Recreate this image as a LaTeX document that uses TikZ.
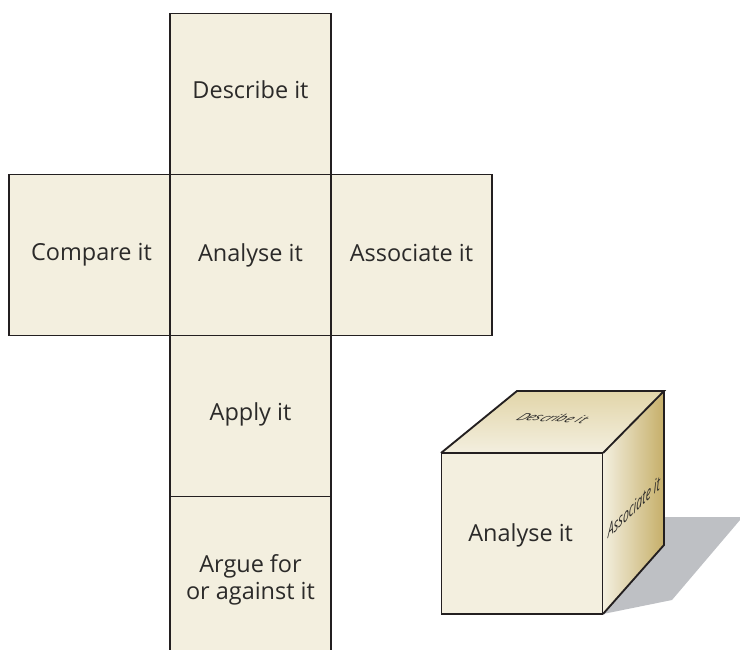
\documentclass[tikz,border=0pt]{standalone}
\usepackage{fontspec}
\setmainfont{Open Sans}
\definecolor{facecol}{HTML}{F3EFDF}
\definecolor{inkcol}{HTML}{2B2A29}
\definecolor{edgecol}{HTML}{231F20}
\definecolor{shadowcol}{HTML}{BEC0C4}
\definecolor{topdark}{HTML}{E2D5A9}
\definecolor{sidedark}{HTML}{C6AF69}
\newcommand{\lift}[2]{\raisebox{#1}[\height][\depth]{#2}}
\tikzset{
  facebox/.style={draw=edgecol,fill=facecol,line width=1.4pt,minimum width=120.75pt,minimum height=120.75pt,
    inner sep=0pt,outer sep=0pt,text=inkcol,font=\fontsize{17.6pt}{20.25pt}\selectfont,align=center},
  cubeline/.style={draw=edgecol,line width=1.4pt,line join=miter},
  slanttext/.style={text=inkcol,font=\fontsize{17.6pt}{20pt}\selectfont\itshape,inner sep=0pt,transform shape}
}
\begin{document}
\begin{tikzpicture}[x=0.75pt,y=-0.75pt]
\useasboundingbox (0,0) rectangle (740,650);
\clip (0,0) rectangle (740,650);
\fill[white] (0,0) rectangle (740,650);
% net
\node[facebox] (describe) at (250.5,94) {\lift{3pt}{Describe it}};
\node[facebox] (compare) at (89.5,255) {\hspace*{3pt}Compare it};
\node[facebox] (analyse) at (250.5,255) {Analyse it};
\node[facebox] (associate) at (411.5,255) {\lift{1.2pt}{Associate it}};
\node[facebox] (apply) at (250.5,416) {\lift{1.5pt}{Apply it}};
\node[facebox] (argue) at (250.5,577) {};
\node[text=inkcol,font=\fontsize{17.6pt}{20.25pt}\selectfont,align=center] (arguetext) at (250.5,580) {Argue for\\or against it};
% cube
\fill[shadowcol] (664,517) -- (740,517) -- (740,520) -- (672,600) -- (603,614) -- cycle;
\shade[bottom color=facecol,top color=topdark] (441,453) -- (517,391) -- (664,391) -- (603,453) -- cycle;
\shade[left color=facecol,right color=sidedark] (603,453) -- (664,391) -- (664,545) -- (603,614) -- cycle;
\draw[cubeline] (441,453) -- (517,391) -- (664,391) -- (603,453);
\draw[cubeline] (664,391) -- (664,545) -- (603,614);
\node[facebox] (front) at (522,533.5) {\lift{-1.5pt}{Analyse it\hspace*{2pt}}};
\node[slanttext,cm={0.62,-0.03,0.5,0.42,(0,0)}] (topface) at (553,418) {Describe it};
\node[slanttext,cm={0.45,0.43,0,0.8,(0,0)}] (sideface) at (634,507) {Associate it};
\end{tikzpicture}
\end{document}
